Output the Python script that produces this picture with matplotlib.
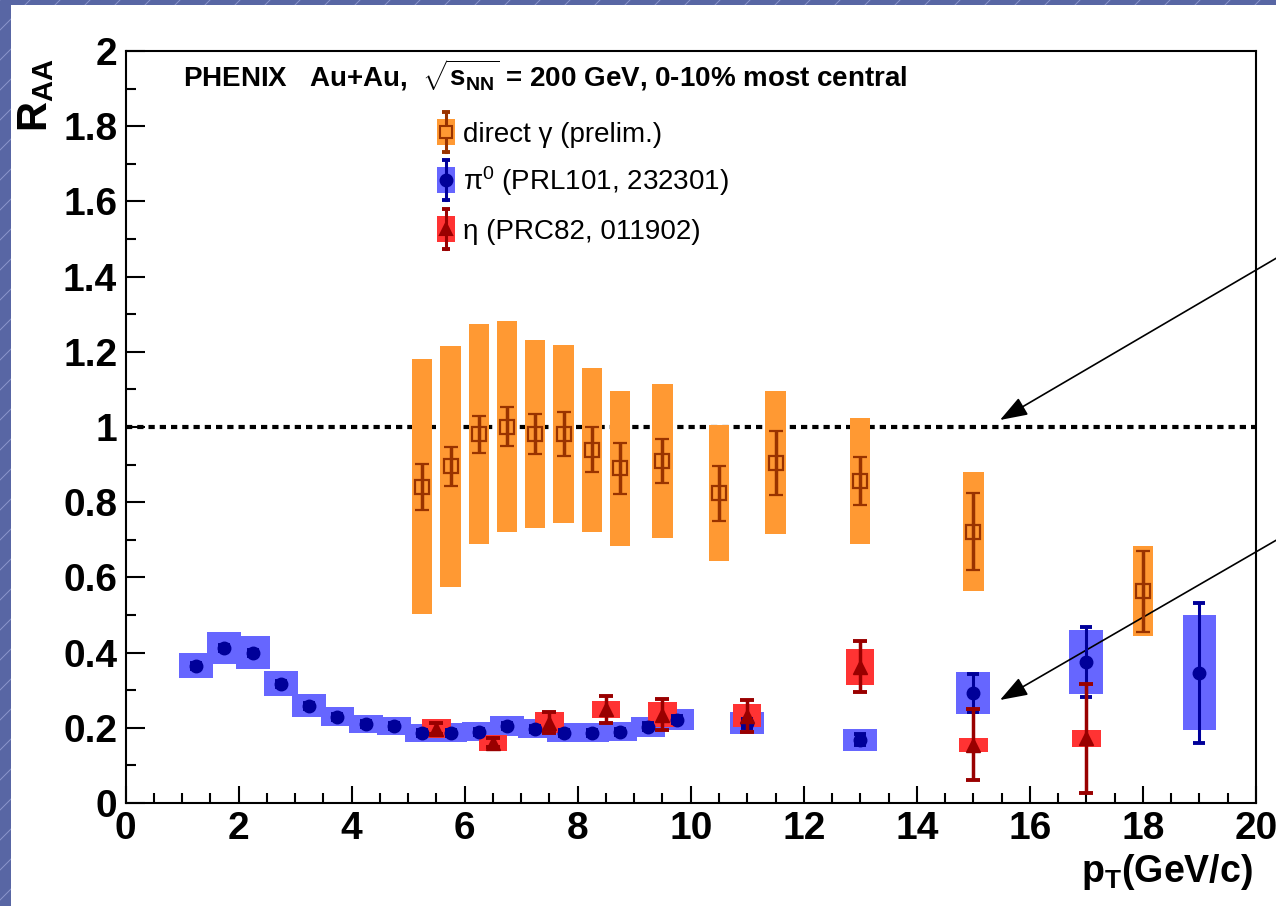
import numpy as np
import matplotlib
matplotlib.use('Agg')
import matplotlib.pyplot as plt
from matplotlib.patches import Rectangle
from matplotlib.lines import Line2D
from matplotlib.ticker import MultipleLocator

plt.rcParams['font.family'] = ['Liberation Sans', 'DejaVu Sans']
plt.rcParams['mathtext.fontset'] = 'custom'
plt.rcParams['mathtext.rm'] = 'Liberation Sans'
plt.rcParams['mathtext.it'] = 'Liberation Sans:italic'
plt.rcParams['mathtext.bf'] = 'Liberation Sans:bold'

# direct photon R_AA (preliminary): pT, value, stat. error, syst. half-height
gam_pt = np.array([5.25, 5.75, 6.25, 6.75, 7.25, 7.75, 8.25, 8.75, 9.5, 10.5, 11.5, 13, 15, 18])
gam_raa = np.array([0.841, 0.895, 0.981, 1.001, 0.981, 0.981, 0.939, 0.890, 0.910, 0.824, 0.905, 0.857, 0.722, 0.563])
gam_stat = np.array([0.061, 0.053, 0.049, 0.051, 0.053, 0.058, 0.060, 0.068, 0.058, 0.073, 0.085, 0.064, 0.102, 0.108])
gam_sys = np.array([0.339, 0.320, 0.293, 0.281, 0.250, 0.236, 0.217, 0.207, 0.205, 0.181, 0.190, 0.168, 0.157, 0.120])

# pi0 R_AA (PRL101, 232301)
pi0_pt = np.array([1.25, 1.75, 2.25, 2.75, 3.25, 3.75, 4.25, 4.75, 5.25, 5.75, 6.25, 6.75,
                   7.25, 7.75, 8.25, 8.75, 9.25, 9.75, 11, 13, 15, 17, 19])
pi0_raa = np.array([0.365, 0.413, 0.400, 0.317, 0.259, 0.230, 0.211, 0.206, 0.186, 0.187, 0.190, 0.205,
                    0.198, 0.187, 0.187, 0.190, 0.203, 0.222, 0.212, 0.168, 0.292, 0.376, 0.346])
pi0_stat = np.array([0.008, 0.008, 0.008, 0.008, 0.008, 0.008, 0.008, 0.008, 0.008, 0.008, 0.008, 0.008,
                     0.008, 0.008, 0.008, 0.008, 0.009, 0.010, 0.012, 0.015, 0.050, 0.093, 0.187])
pi0_sys = np.array([0.033, 0.043, 0.044, 0.033, 0.031, 0.026, 0.024, 0.024, 0.025, 0.025, 0.025, 0.026,
                    0.026, 0.026, 0.026, 0.026, 0.027, 0.027, 0.029, 0.029, 0.056, 0.085, 0.153])

# eta R_AA (PRC82, 011902)
eta_pt = np.array([5.5, 6.5, 7.5, 8.5, 9.5, 11, 13, 15, 17])
eta_raa = np.array([0.198, 0.160, 0.214, 0.249, 0.235, 0.232, 0.362, 0.155, 0.172])
eta_stat = np.array([0.015, 0.012, 0.028, 0.035, 0.042, 0.042, 0.068, 0.095, 0.145])
eta_sys = np.array([0.025, 0.022, 0.028, 0.022, 0.033, 0.030, 0.047, 0.019, 0.022])

ORANGE, ORANGE_DK = '#ff9933', '#993300'
BLUE, BLUE_DK = '#6666ff', '#000099'
RED, RED_DK = '#ff3333', '#990000'

W, H = 1276, 906


def slide_background(fig):
    # striped blue slide with a white sheet on top
    fig.patch.set_facecolor('#5866a4')
    for x0 in range(-H, W, 30):
        fig.add_artist(Line2D([x0 / W, (x0 + H) / W], [0, 1], transform=fig.transFigure,
                              color='#8c96cc', lw=0.7, zorder=-2))
    fig.add_artist(Rectangle((11 / W, 0), 1, 1 - 5 / H, transform=fig.transFigure,
                             facecolor='white', edgecolor='none', zorder=-1))


def sys_boxes(ax, pt, raa, sys, width, color, z):
    ax.bar(pt, 2 * sys, bottom=raa - sys, width=width, color=color, linewidth=0, zorder=z)


def legend_entry(ax, x, y, box_color, color, marker, filled, label):
    # little key: syst. box + stat. bar + marker, then the label
    px, py = 1 / 1130.5, 1 / 752
    ax.add_patch(Rectangle((x - 9 * px, y - 13 * py), 18 * px, 26 * py, transform=ax.transAxes,
                           facecolor=box_color, edgecolor='none', zorder=8))
    ax.plot([x, x], [y - 20 * py, y + 20 * py], transform=ax.transAxes, color=color, lw=2.2, zorder=9)
    ax.plot([x, x], [y - 20 * py, y + 20 * py], transform=ax.transAxes, ls='none', marker='_',
            ms=6, mew=2.8, color=color, zorder=9)
    ax.plot([x], [y], transform=ax.transAxes, ls='none', marker=marker, ms=8.5,
            mfc=color if filled else box_color, mec=color, mew=1.5, zorder=10)
    ax.text(x + 17 * px, y - 10 * py, label, transform=ax.transAxes, fontsize=20,
            va='baseline', ha='left')


def main():
    fig = plt.figure(figsize=(W / 100, H / 100), dpi=100)
    slide_background(fig)
    ax = fig.add_axes([125.5 / W, 1 - 803 / H, 1130.5 / W, 752 / H])
    ax.set_facecolor('white')

    ax.axhline(1.0, color='black', lw=3.0, ls=(0, (1.5, 1.2)), zorder=1)

    sys_boxes(ax, gam_pt, gam_raa, gam_sys, 0.36, ORANGE, 2)
    sys_boxes(ax, pi0_pt, pi0_raa, pi0_sys, 0.6, BLUE, 3)
    sys_boxes(ax, eta_pt, eta_raa, eta_sys, 0.5, RED, 4)

    ax.errorbar(gam_pt, gam_raa, yerr=gam_stat, fmt='s', ms=9.5, mfc='none', mec=ORANGE_DK, mew=1.6,
                ecolor=ORANGE_DK, elinewidth=2.5, capsize=5, capthick=2.8, zorder=5)
    ax.errorbar(pi0_pt, pi0_raa, yerr=pi0_stat, fmt='o', ms=9, color=BLUE_DK,
                elinewidth=2.2, capsize=4, capthick=2.8, zorder=6)
    ax.errorbar(eta_pt, eta_raa, yerr=eta_stat, fmt='^', ms=10.5, color=RED_DK,
                elinewidth=2.5, capsize=5, capthick=2.8, zorder=7)

    ax.set_xlim(0, 20)
    ax.set_ylim(0, 2)
    ax.xaxis.set_major_locator(MultipleLocator(2))
    ax.xaxis.set_minor_locator(MultipleLocator(0.5))
    ax.yaxis.set_major_locator(MultipleLocator(0.2))
    ax.yaxis.set_minor_locator(MultipleLocator(0.1))
    ax.xaxis.set_major_formatter(lambda v, p: '%g' % v)
    ax.yaxis.set_major_formatter(lambda v, p: '%g' % v)
    ax.tick_params(which='both', direction='in', top=False, right=False, width=1.5)
    ax.tick_params(axis='x', which='major', length=12, pad=6)
    ax.tick_params(axis='y', which='major', length=14, pad=6)
    ax.tick_params(which='minor', length=7)
    for lab in ax.get_xticklabels() + ax.get_yticklabels():
        lab.set_fontsize(28)
        lab.set_fontweight('bold')
    for sp in ax.spines.values():
        sp.set_linewidth(1.5)

    ax.text(0.0506, 0.9525, r'PHENIX   Au+Au,  $\sqrt{\mathbf{s_{NN}}}$ = 200 GeV, 0-10% most central',
            transform=ax.transAxes, fontsize=20, fontweight='bold', va='baseline', ha='left')

    lx = (446 - 125.5) / 1130.5
    legend_entry(ax, lx, (803 - 132) / 752, ORANGE, ORANGE_DK, 's', False, 'direct γ (prelim.)')
    legend_entry(ax, lx, (803 - 180) / 752, BLUE, BLUE_DK, 'o', True, r'π$^{0}$ (PRL101, 232301)')
    legend_entry(ax, lx, (803 - 229) / 752, RED, RED_DK, '^', True, 'η (PRC82, 011902)')

    fig.text(36 / W, 1 - 58 / H, r'$\mathbf{R_{AA}}$', rotation=90, ha='center', va='top', fontsize=30)
    fig.text(1253 / W, 1 - 852 / H, r'$\mathbf{p_{T}(GeV/c)}$', ha='right', va='top', fontsize=27)

    # pointer arrows coming in from the right edge
    arrow = dict(arrowstyle='-|>,head_length=1.7,head_width=0.6', color='black', lw=1.2,
                 mutation_scale=10, shrinkA=0, shrinkB=0)
    ax.annotate('', xy=(1000, H - 420), xycoords='figure pixels',
                xytext=(1280, H - 256), textcoords='figure pixels', arrowprops=arrow)
    ax.annotate('', xy=(1000, H - 700), xycoords='figure pixels',
                xytext=(1280, H - 538), textcoords='figure pixels', arrowprops=arrow)

    fig.savefig('out.png', dpi=100)


if __name__ == '__main__':
    main()
